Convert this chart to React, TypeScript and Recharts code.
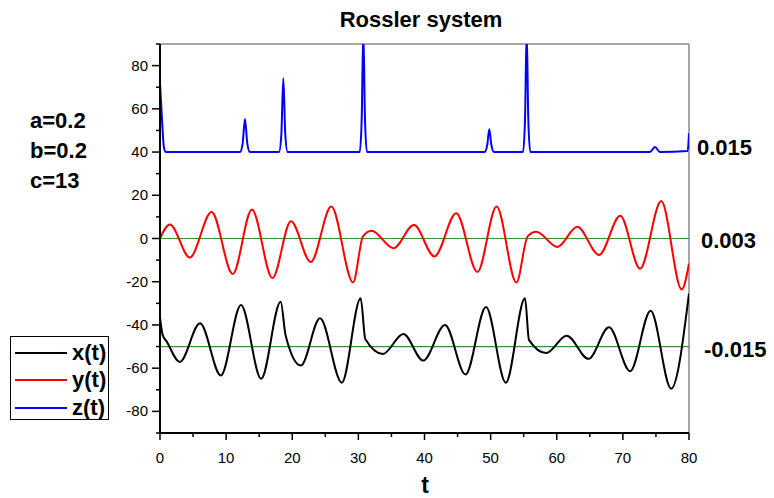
import {
  LineChart,
  Line,
  XAxis,
  YAxis,
  ReferenceLine,
  Legend,
  Customized,
} from "recharts";

// x(t), shifted down by 50
const xTimes = [0, 0.4, 1.0, 3.0, 6.05, 9.2, 12.25, 15.3, 18.25, 19.0, 21.3, 24.2, 27.5, 30.35, 31.05, 33.7, 36.8, 39.8, 43.1, 46.2, 49.3, 52.3, 55.2, 55.8, 58.4, 61.5, 64.8, 67.9, 71.1, 74.2, 77.3, 80];
const xValues = [-36.6, -44.6, -47.6, -57.1, -39.2, -63.4, -30.8, -64.9, -29.3, -44.9, -58.8, -36.9, -66.7, -27.7, -46.5, -53.4, -44.2, -56.5, -40.0, -62.9, -31.7, -66.7, -27.7, -46.9, -53.0, -45.0, -55.7, -41.1, -61.4, -33.4, -69.5, -25.5];

// y(t)
const yTimes = [0, 1.5, 4.5, 7.8, 11.0, 13.9, 17.0, 19.8, 22.8, 25.9, 29.2, 30.7, 32.0, 35.3, 38.4, 41.5, 44.8, 48.0, 50.9, 53.9, 55.6, 56.9, 60.1, 63.1, 66.4, 69.6, 72.6, 75.8, 78.9, 80];
const yValues = [0, 6.5, -8.8, 12.3, -16.4, 13.4, -18.3, 8.0, -10.9, 14.8, -20.3, 1.0, 3.6, -4.5, 6.2, -8.3, 11.7, -15.5, 14.8, -20.4, 1.0, 3.1, -3.9, 5.4, -7.6, 10.5, -14.0, 17.3, -23.6, -11.7];

// z(t), shifted up by 40
const zTimes = [0, 0.3, 0.6, 0.9, 12.1, 12.5, 12.85, 13.2, 13.6, 18.0, 18.35, 18.65, 18.95, 19.3, 30.2, 30.5, 30.75, 31.0, 31.3, 49.1, 49.5, 49.8, 50.1, 50.5, 54.9, 55.2, 55.45, 55.7, 56.0, 74.1, 74.85, 75.6, 79.8, 80];
const zValues = [72.1, 55, 42, 40, 40, 44, 55.3, 44, 40, 40, 48, 74.2, 48, 40, 40, 55, 96, 55, 40, 40, 43.5, 50.5, 43.5, 40, 40, 55, 96, 55, 40, 40, 42.3, 40, 40.5, 48.7];

const tTicks = [0, 5, 10, 15, 20, 25, 30, 35, 40, 45, 50, 55, 60, 65, 70, 75, 80];
const vTicks = [-90, -80, -70, -60, -50, -40, -30, -20, -10, 0, 10, 20, 30, 40, 50, 60, 70, 80, 90];

const params = ["a=0.2", "b=0.2", "c=13"];
const sideLabels = ["0.015", "0.003", "-0.015"];

const xSeries = xTimes.map((t, i) => ({ t, v: xValues[i] }));
const ySeries = yTimes.map((t, i) => ({ t, v: yValues[i] }));
const zSeries = zTimes.map((t, i) => ({ t, v: zValues[i] }));

const FONT = "'Liberation Sans', Arial, Helvetica, sans-serif";

const YTick = (props: any) => {
  const { x, y, payload } = props;
  const major = payload.value % 20 === 0;
  return (
    <g>
      <line x1={x} x2={x - (major ? 8 : 4)} y1={y} y2={y} stroke="#000" strokeWidth={1.5} />
      {major && (
        <text x={x - 12} y={y} dy={5} textAnchor="end" fontSize={15} fontFamily={FONT} fill="#000">
          {payload.value}
        </text>
      )}
    </g>
  );
};

const XTick = (props: any) => {
  const { x, y, payload } = props;
  const major = payload.value % 10 === 0;
  return (
    <g>
      <line x1={x} x2={x} y1={y} y2={y + (major ? 7 : 4)} stroke="#000" strokeWidth={1.5} />
      {major && (
        <text x={x} y={y + 30} textAnchor="middle" fontSize={15} fontFamily={FONT} fill="#000">
          {payload.value}
        </text>
      )}
    </g>
  );
};

const LegendBox = (props: any) => {
  const items = props.payload || [];
  return (
    <div
      style={{
        width: 99,
        height: 84,
        boxSizing: "border-box",
        border: "1px solid #000",
        background: "#fff",
        paddingTop: 2,
        fontFamily: FONT,
      }}
    >
      {items.map((e: any) => (
        <div key={e.value} style={{ display: "flex", alignItems: "center", height: 27.5 }}>
          <span style={{ display: "inline-block", width: 52, height: 2, background: e.color, marginLeft: 4 }} />
          <span style={{ fontSize: 22, fontWeight: "bold", marginLeft: 5, lineHeight: "22px" }}>{e.value}</span>
        </div>
      ))}
    </div>
  );
};

const Texts = () => (
  <g fontFamily={FONT} fontWeight="bold" fill="#000">
    <text x={421} y={27} textAnchor="middle" fontSize={22}>
      Rossler system
    </text>
    {params.map((p, i) => (
      <text key={p} x={30} y={128 + i * 30} fontSize={22}>
        {p}
      </text>
    ))}
    <text x={697} y={155} fontSize={22}>{sideLabels[0]}</text>
    <text x={701} y={248} fontSize={22}>{sideLabels[1]}</text>
    <text x={704} y={357} fontSize={22}>{sideLabels[2]}</text>
    <text x={425} y={493} textAnchor="middle" fontSize={23}>
      t
    </text>
  </g>
);

export default function App() {
  return (
    <div style={{ position: "absolute", left: 0, top: 0 }}>
      <LineChart width={774} height={498} margin={{ top: 44, right: 85, left: 0, bottom: 0 }}>
        <XAxis
          type="number"
          dataKey="t"
          domain={[0, 80]}
          ticks={tTicks}
          interval={0}
          allowDataOverflow
          height={65}
          tickSize={0}
          tickMargin={0}
          tickLine={false}
          tick={<XTick />}
          axisLine={{ stroke: "#000", strokeWidth: 2 }}
        />
        <YAxis
          type="number"
          dataKey="v"
          domain={[-90, 90]}
          ticks={vTicks}
          interval={0}
          allowDataOverflow
          width={160}
          tickSize={0}
          tickMargin={0}
          tickLine={false}
          tick={<YTick />}
          axisLine={{ stroke: "#000", strokeWidth: 2 }}
        />
        <ReferenceLine y={90} stroke="#888" strokeWidth={1.5} />
        <ReferenceLine x={80} stroke="#888" strokeWidth={1.5} />
        <ReferenceLine y={0} stroke="#3a8f3a" strokeWidth={1.2} />
        <ReferenceLine y={-50} stroke="#3a8f3a" strokeWidth={1.2} />
        <Line data={xSeries} dataKey="v" name="x(t)" type="monotone" stroke="#000" strokeWidth={2} dot={false} isAnimationActive={false} />
        <Line data={ySeries} dataKey="v" name="y(t)" type="monotone" stroke="#ff0000" strokeWidth={2} dot={false} isAnimationActive={false} />
        <Line data={zSeries} dataKey="v" name="z(t)" type="monotone" stroke="#0000ff" strokeWidth={2} dot={false} isAnimationActive={false} />
        <Legend
          layout="vertical"
          align="center"
          verticalAlign="middle"
          content={<LegendBox />}
          wrapperStyle={{ left: 10, top: 336, width: 99, height: 84 }}
        />
        <Customized component={<Texts />} />
      </LineChart>
    </div>
  );
}
